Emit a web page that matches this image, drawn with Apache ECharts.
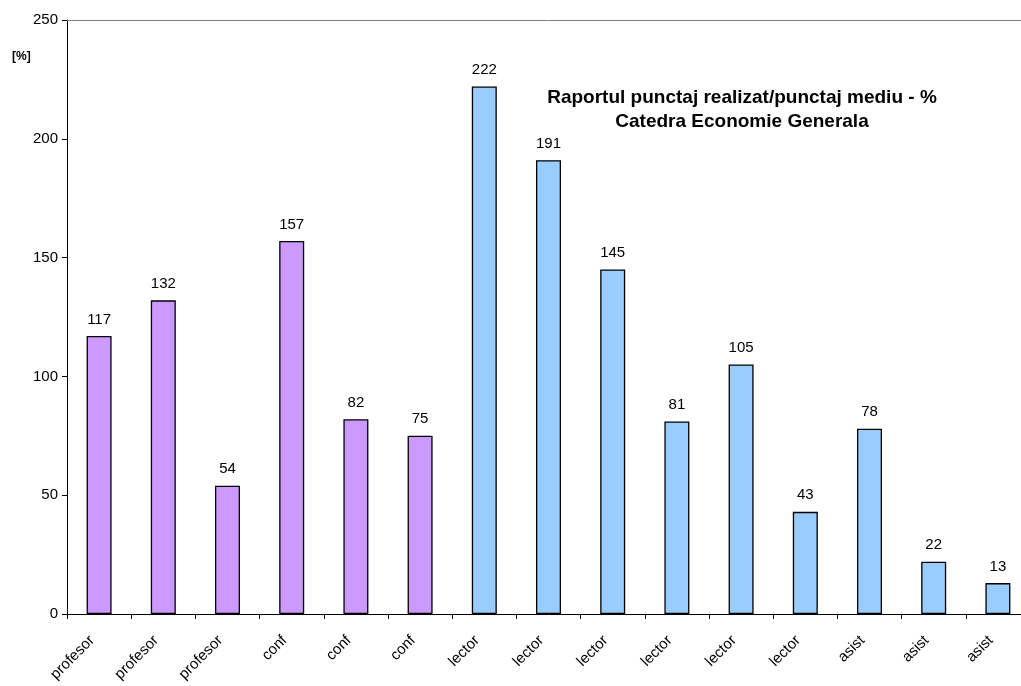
<!DOCTYPE html>
<html>
<head>
<meta charset="utf-8">
<script src="https://cdn.jsdelivr.net/npm/echarts@6/dist/echarts.min.js"></script>
<style>
    html, body { margin: 0; padding: 0; background: #fff; overflow: hidden; }
    #chart { width: 1030px; height: 686px; }
</style>
</head>
<body>
<div id="chart"></div>
<script>
// categorii si valori (procente)
var categories = ['profesor', 'profesor', 'profesor', 'conf', 'conf', 'conf',
    'lector', 'lector', 'lector', 'lector', 'lector', 'lector', 'asist', 'asist', 'asist'];
var values = [117, 132, 54, 157, 82, 75, 222, 191, 145, 81, 105, 43, 78, 22, 13];
var groups = ['p', 'p', 'p', 'p', 'p', 'p', 'l', 'l', 'l', 'l', 'l', 'l', 'l', 'l', 'l'];
var yTicks = [0, 50, 100, 150, 200, 250];

var colorMap = { p: '#CC99FF', l: '#99CCFF' };
var font = 'Arial, "Liberation Sans", sans-serif';

// graficul iese putin in dreapta, ca in original
var myChart = echarts.init(document.getElementById('chart'));
var seriesData = [];
for (var i = 0; i < values.length; i++) {
    seriesData.push({
        value: values[i],
        itemStyle: { color: colorMap[groups[i]] }
    });
}

var option = {
    animation: false,
    backgroundColor: '#fff',
    title: {
        text: 'Raportul punctaj realizat/punctaj mediu - %\nCatedra Economie Generala',
        left: 737,
        top: 81,
        textAlign: 'center',
        textStyle: {
            fontFamily: font, fontSize: 19, fontWeight: 'bold', color: '#000', lineHeight: 24
        }
    },
    graphic: [{
        type: 'text',
        left: 12,
        top: 51,
        style: { text: '[%]', font: 'bold 12px ' + font, fill: '#000' }
    }],
    grid: { left: 67, top: 20, right: 0, bottom: 72, containLabel: false },
    xAxis: [{
        type: 'category',
        data: categories,
        axisLine: { lineStyle: { color: '#000', width: 1 } },
        axisTick: { show: true, length: 5, lineStyle: { color: '#000' } },
        axisLabel: {
            rotate: 45, interval: 0, margin: 17, padding: [0, 10, 0, 0],
            fontFamily: font, fontSize: 15, color: '#000'
        },
        splitLine: { show: false }
    }, {
        type: 'category',
        position: 'top',
        data: categories,
        axisLine: { lineStyle: { color: '#808080', width: 1 } },
        axisTick: { show: false },
        axisLabel: { show: false }
    }],
    yAxis: {
        type: 'value',
        min: yTicks[0],
        max: yTicks[yTicks.length - 1],
        interval: 50,
        axisLine: { show: true, lineStyle: { color: '#000', width: 1 } },
        axisTick: { show: true, length: 5, lineStyle: { color: '#000' } },
        axisLabel: { fontFamily: font, fontSize: 15, color: '#000', margin: 9 },
        splitLine: { show: false }
    },
    series: [{
        type: 'bar',
        data: seriesData,
        barWidth: 25,
        itemStyle: { borderColor: '#000', borderWidth: 1.3 },
        label: {
            show: true,
            position: 'top',
            distance: 9,
            fontFamily: font,
            fontSize: 15,
            color: '#000'
        }
    }]
};
myChart.setOption(option, true);
</script>
</body>
</html>
